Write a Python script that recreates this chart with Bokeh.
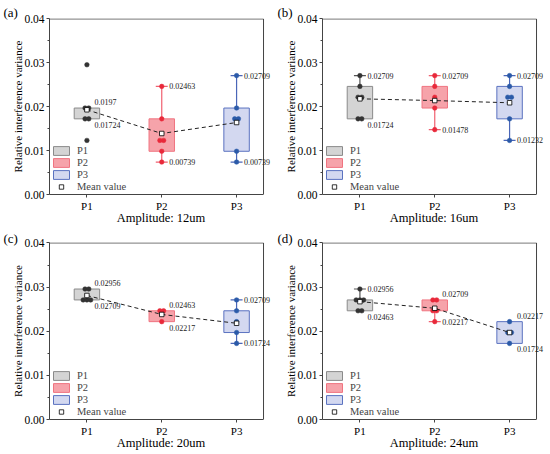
from bokeh.plotting import figure
from bokeh.models import (Range1d, FixedTicker, NumeralTickFormatter, ColumnDataSource,
                          LabelSet, Legend, LegendItem)
from bokeh.layouts import gridplot
from bokeh.embed import file_html
from bokeh.resources import INLINE

# ---------------- data ----------------
CATS = ["P1", "P2", "P3"]
CAT_POS = [1, 2, 3]
PANEL_TAGS = ["(a)", "(b)", "(c)", "(d)"]
X_TITLES = ["Amplitude: 12um", "Amplitude: 16um", "Amplitude: 20um", "Amplitude: 24um"]
Y_TITLE = "Relative interference variance"
Y_TICKS = [0.0, 0.01, 0.02, 0.03, 0.04]
Y_MINOR = [0.005, 0.015, 0.025, 0.035]

# panel (a) 12um
a_pts = [[0.02956, 0.0197, 0.0197, 0.01724, 0.01724, 0.01232],
         [0.02463, 0.01724, 0.01232, 0.01232, 0.00985, 0.00739],
         [0.02709, 0.0197, 0.01724, 0.01724, 0.00985, 0.00739]]
a_q1 = [0.01724, 0.00985, 0.00985]
a_q3 = [0.0197, 0.01724, 0.0197]
a_lo = [0.01724, 0.00739, 0.00739]
a_hi = [0.0197, 0.02463, 0.02709]
a_mean = [0.0193, 0.0139, 0.0164]

# panel (b) 16um
b_pts = [[0.02709, 0.02463, 0.02217, 0.02217, 0.01724, 0.01724],
         [0.02709, 0.02463, 0.02217, 0.0197, 0.01478],
         [0.02709, 0.02463, 0.02217, 0.02217, 0.01724, 0.01232]]
b_q1 = [0.01724, 0.0197, 0.01724]
b_q3 = [0.02463, 0.02463, 0.02463]
b_lo = [0.01724, 0.01478, 0.01232]
b_hi = [0.02709, 0.02709, 0.02709]
b_mean = [0.0218, 0.0214, 0.0209]

# panel (c) 20um
c_pts = [[0.02956, 0.02956, 0.02709, 0.02709, 0.02709],
         [0.02463, 0.02463, 0.02217],
         [0.02709, 0.02463, 0.02217, 0.0197, 0.01724]]
c_q1 = [0.02709, 0.02217, 0.0197]
c_q3 = [0.02956, 0.02463, 0.02463]
c_lo = [0.02709, 0.02217, 0.01724]
c_hi = [0.02956, 0.02463, 0.02709]
c_mean = [0.0281, 0.0238, 0.0218]

# panel (d) 24um
d_pts = [[0.02956, 0.02709, 0.02709, 0.02709, 0.02463, 0.02463],
         [0.02709, 0.02709, 0.02463, 0.02463, 0.02217],
         [0.02217, 0.0197, 0.0197, 0.01724]]
d_q1 = [0.02463, 0.02463, 0.01724]
d_q3 = [0.02709, 0.02709, 0.02217]
d_lo = [0.02463, 0.02217, 0.01724]
d_hi = [0.02956, 0.02709, 0.02217]
d_mean = [0.0267, 0.0252, 0.0197]

PANELS = [
    (a_pts, a_q1, a_q3, a_lo, a_hi, a_mean),
    (b_pts, b_q1, b_q3, b_lo, b_hi, b_mean),
    (c_pts, c_q1, c_q3, c_lo, c_hi, c_mean),
    (d_pts, d_q1, d_q3, d_lo, d_hi, d_mean),
]

# ---------------- style ----------------
FONT = "Liberation Serif"
FILL = ["#D4D4D4", "#F6A3AA", "#D3D8F0"]
EDGE = ["#8A8A8A", "#F07480", "#5A72C0"]
WHISK = ["#555555", "#F06070", "#4A66B8"]
DOT = ["#333333", "#E8293A", "#2B5AA8"]
AX = "#444444"
BOX_W = 0.34
CAP_W = 0.08
X_LO, X_HI, X_PAD = 0.5, 3.36, 0.12      # visible box ends at X_HI, labels may overhang
Y_LO, Y_HI = 0.0, 0.04
Y_EPS = 0.0001

# (width, height, left, right, top, bottom, tag offset, tag standoff)
LAYOUT = [
    (275, 227, 49, 3, 18, 28, -46, -3),
    (275, 227, 47, 5, 18, 28, -45, -3),
    (275, 225, 49, 3, 15, 29, -46, -6),
    (275, 225, 47, 5, 15, 29, -45, -6),
]


def fmt(v):
    return f"{v:.5f}".rstrip("0")


def make_panel(i):
    pts, q1, q3, lo, hi, mean = PANELS[i]
    w, h, bl, br, bt, bb, tag_off, tag_so = LAYOUT[i]
    p = figure(width=w, height=h, output_backend="svg", toolbar_location=None,
               x_range=Range1d(X_LO, X_HI + X_PAD), y_range=Range1d(Y_LO, Y_HI + Y_EPS),
               min_border_left=bl, min_border_right=br,
               min_border_top=bt, min_border_bottom=bb)
    p.grid.visible = False
    p.outline_line_color = None
    p.background_fill_color = "white"
    p.border_fill_color = "white"

    # panel tag as title
    p.title.text = PANEL_TAGS[i]
    p.title.align = "left"
    p.title.offset = tag_off
    p.title.standoff = tag_so
    p.title.text_font = FONT
    p.title.text_font_size = "13px"
    p.title.text_font_style = "normal"
    p.title.text_color = "black"

    # axes
    xa = p.xaxis[0]
    xa.ticker = FixedTicker(ticks=CAT_POS)
    xa.major_label_overrides = {c: n for c, n in zip(CAT_POS, CATS)}
    xa.minor_tick_line_color = None
    xa.bounds = (X_LO, X_HI)
    xa.axis_label = X_TITLES[i]
    xa.axis_label_standoff = -4
    xa.axis_label_text_font_size = "12.5px"

    ya = p.yaxis[0]
    ya.ticker = FixedTicker(ticks=Y_TICKS, minor_ticks=Y_MINOR)
    ya.formatter = NumeralTickFormatter(format="0.00")
    ya.axis_label = Y_TITLE
    ya.axis_label_standoff = -3
    ya.axis_label_text_font_size = "11px"
    ya.minor_tick_out = 2
    ya.minor_tick_in = 0
    ya.minor_tick_line_color = AX

    for ax in (xa, ya):
        ax.axis_line_color = AX
        ax.major_tick_line_color = AX
        ax.major_tick_out = 3
        ax.major_tick_in = 0
        ax.major_label_standoff = 2
        ax.major_label_text_font = FONT
        ax.major_label_text_color = "black"
        ax.axis_label_text_font = FONT
        ax.axis_label_text_font_style = "normal"
        ax.axis_label_text_color = "black"
    xa.major_label_text_font_size = "11px"
    ya.major_label_text_font_size = "11.5px"

    # top and right sides of the box
    p.segment(x0=[X_LO, X_HI], y0=[Y_HI, Y_LO], x1=[X_HI, X_HI], y1=[Y_HI, Y_HI],
              line_color=AX, line_width=1)

    box_renderers = []
    for k in range(3):
        x = CAT_POS[k]
        r = p.quad(left=[x - BOX_W / 2], right=[x + BOX_W / 2], bottom=[q1[k]], top=[q3[k]],
                   fill_color=FILL[k], line_color=EDGE[k], line_width=1)
        box_renderers.append(r)
        seg_x0, seg_y0, seg_x1, seg_y1 = [], [], [], []
        if hi[k] > q3[k]:
            seg_x0 += [x, x - CAP_W]; seg_y0 += [q3[k], hi[k]]
            seg_x1 += [x, x + CAP_W]; seg_y1 += [hi[k], hi[k]]
        if lo[k] < q1[k]:
            seg_x0 += [x, x - CAP_W]; seg_y0 += [q1[k], lo[k]]
            seg_x1 += [x, x + CAP_W]; seg_y1 += [lo[k], lo[k]]
        if seg_x0:
            p.segment(x0=seg_x0, y0=seg_y0, x1=seg_x1, y1=seg_y1,
                      line_color=WHISK[k], line_width=1.2)
        vals = pts[k]
        xs = []
        for j, v in enumerate(vals):
            n = vals.count(v)
            kk = vals[:j].count(v)
            xs.append(x + (kk - (n - 1) / 2) * 0.05)
        p.scatter(xs, vals, size=4.6, marker="circle", fill_color=DOT[k],
                  line_color=DOT[k], line_width=0.5)

    p.line(CAT_POS, mean, line_color="#222222", line_width=1, line_dash="4 3")
    mean_r = p.scatter(CAT_POS, mean, marker="square", size=4.5, fill_color="white",
                       line_color="black", line_width=0.8)

    lx, ly, lt, lyo = [], [], [], []
    for k in range(3):
        lx.append(CAT_POS[k]); ly.append(hi[k]); lt.append(fmt(hi[k]))
        lyo.append(0 if hi[k] > q3[k] else 6)
        lx.append(CAT_POS[k]); ly.append(lo[k]); lt.append(fmt(lo[k]))
        lyo.append(0 if lo[k] < q1[k] else -6)
    src = ColumnDataSource(dict(x=lx, y=ly, text=lt, yo=lyo))
    p.add_layout(LabelSet(x="x", y="y", text="text", source=src, x_offset=7.5, y_offset="yo",
                          text_font=FONT, text_font_size="8px", text_color="#222222",
                          text_align="left", text_baseline="middle"))

    items = [LegendItem(label=CATS[k], renderers=[box_renderers[k]]) for k in range(3)]
    items.append(LegendItem(label="Mean value", renderers=[mean_r]))
    leg = Legend(items=items, location="bottom_left", margin=2, padding=2,
                 glyph_width=20, glyph_height=11, label_height=12, spacing=0,
                 label_standoff=6, label_text_font=FONT, label_text_font_size="10.5px",
                 border_line_color=None, background_fill_alpha=0)
    p.add_layout(leg)
    return p


plots = [make_panel(i) for i in range(4)]
grid = gridplot([[plots[0], plots[1]], [plots[2], plots[3]]], toolbar_location=None)

open("out.html", "w").write(file_html(grid, INLINE))
